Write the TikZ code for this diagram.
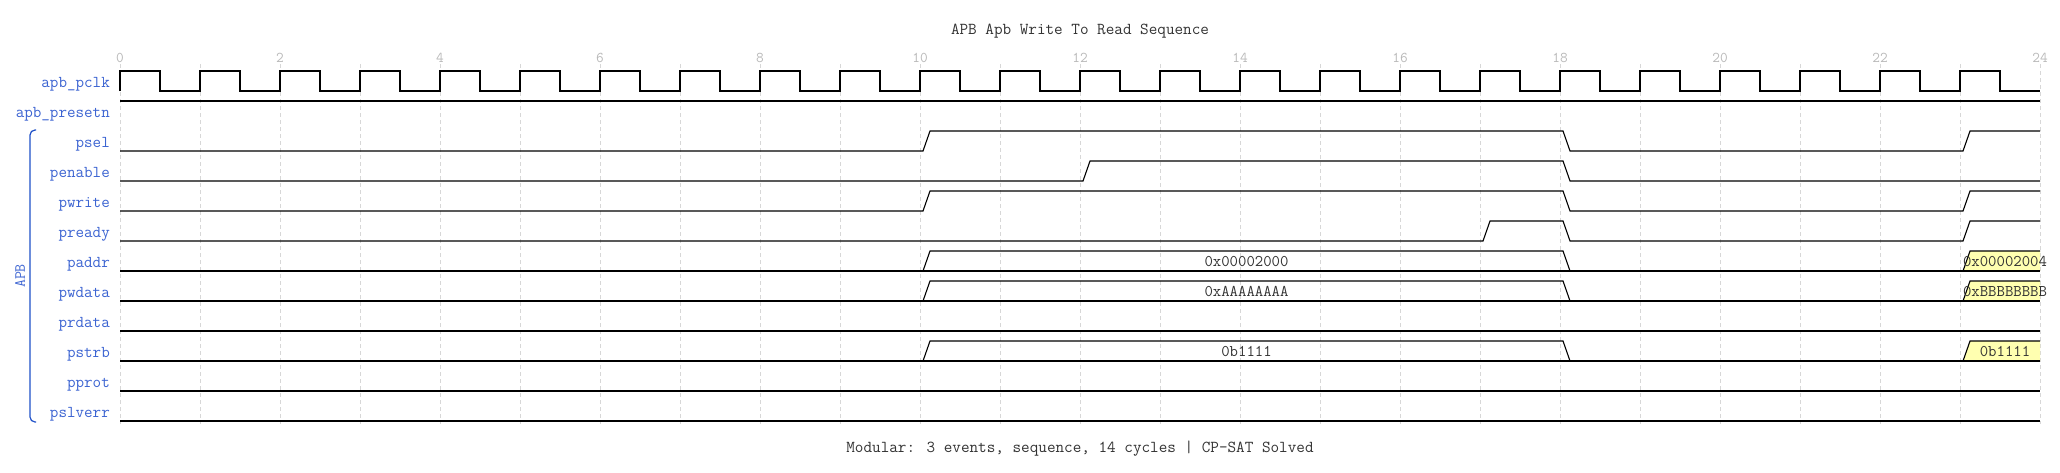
\documentclass[tikz,border=0pt]{standalone}
\usepackage{fontspec}
\definecolor{lblue}{RGB}{60,100,210}
\definecolor{bblue}{RGB}{30,80,200}
\definecolor{txtgray}{RGB}{51,51,51}
\definecolor{tickgray}{RGB}{185,185,185}
\definecolor{gridgray}{RGB}{215,215,215}
\definecolor{busyellow}{RGB}{255,255,176}
\tikzset{
  sig/.style={draw=black, line width=1.1pt, line join=miter},
  gridline/.style={draw=gridgray, line width=0.8pt, dash pattern=on 4pt off 3pt},
  siglabel/.style={anchor=base east, text=lblue, inner sep=0pt, font=\ttfamily\fontsize{16.6}{18}\selectfont},
  ticklabel/.style={anchor=base, text=tickgray, inner sep=0pt, font=\ttfamily\fontsize{14.9}{16}\selectfont},
  bustext/.style={anchor=base, text=txtgray, inner sep=0pt, font=\ttfamily\fontsize{16.3}{18}\selectfont},
  titletext/.style={anchor=base, text=txtgray, inner sep=0pt, font=\ttfamily\fontsize{16.7}{18}\selectfont},
  busfill/.style={fill=busyellow, draw=none},
}
\begin{document}
\begin{tikzpicture}[x=1pt, y=-1pt]
\useasboundingbox[fill=white] (0,0) rectangle (2060,472);

% title and footer
\node[titletext] (title) at (1080,34) {APB Apb Write To Read Sequence};
\node[titletext] (footer) at (1080,452) {Modular: 3 events, sequence, 14 cycles | CP-SAT Solved};

% grid and ticks
\foreach \i in {0,...,24} {
  \draw[gridline] (120+80*\i,64) -- (120+80*\i,424);
}
\foreach \i in {0,2,...,24} {
  \node[ticklabel] (tick\i) at (120+80*\i,62) {\i};
}

% signal labels
\node[siglabel] (lpclk)    at (110,87)  {apb\_pclk};
\node[siglabel] (lpresetn) at (110,117.5) {apb\_presetn};
\node[siglabel] (lpsel)    at (110,147.5) {psel};
\node[siglabel] (lpenable) at (110,177.5) {penable};
\node[siglabel] (lpwrite)  at (110,207.5) {pwrite};
\node[siglabel] (lpready)  at (110,237.5) {pready};
\node[siglabel] (lpaddr)   at (110,267.5) {paddr};
\node[siglabel] (lpwdata)  at (110,297.5) {pwdata};
\node[siglabel] (lprdata)  at (110,327.5) {prdata};
\node[siglabel] (lpstrb)   at (110,357.5) {pstrb};
\node[siglabel] (lpprot)   at (110,387.5) {pprot};
\node[siglabel] (lpslverr) at (110,417.5) {pslverr};

% group bracket
\draw[bblue, line width=1.2pt, rounded corners=5pt] (36,130) -- (30,130) -- (30,422) -- (36,422);
\node[rotate=90, text=lblue, inner sep=0pt, font=\ttfamily\fontsize{15.5}{17}\selectfont] (grp) at (20,276) {APB};

% clock
\draw[sig] (120,91) foreach \i in {0,...,23} { -- (120+80*\i,71) -- (160+80*\i,71) -- (160+80*\i,91) -- (200+80*\i,91) };

% presetn (high)
\draw[sig] (120,101) -- (2040,101);

% psel
\draw[sig] (120,151) -- (923,151) -- (930,131) -- (1563,131) -- (1570,151) -- (1963,151) -- (1970,131) -- (2040,131);
% penable
\draw[sig] (120,181) -- (1083,181) -- (1090,161) -- (1563,161) -- (1570,181) -- (2040,181);
% pwrite
\draw[sig] (120,211) -- (923,211) -- (930,191) -- (1563,191) -- (1570,211) -- (1963,211) -- (1970,191) -- (2040,191);
% pready
\draw[sig] (120,241) -- (1483,241) -- (1490,221) -- (1563,221) -- (1570,241) -- (1963,241) -- (1970,221) -- (2040,221);

% paddr
\fill[busfill] (1963,271) -- (1970,251) -- (2040,251) -- (2040,271) -- cycle;
\draw[sig] (120,271) -- (2040,271);
\draw[sig] (923,271) -- (930,251) -- (1563,251) -- (1570,271);
\draw[sig] (1963,271) -- (1970,251) -- (2040,251);
\node[bustext] (vaddr1) at (1246.5,266.7) {0x00002000};
\node[bustext] (vaddr2) at (2005,266.7) {0x00002004};

% pwdata
\fill[busfill] (1963,301) -- (1970,281) -- (2040,281) -- (2040,301) -- cycle;
\draw[sig] (120,301) -- (2040,301);
\draw[sig] (923,301) -- (930,281) -- (1563,281) -- (1570,301);
\draw[sig] (1963,301) -- (1970,281) -- (2040,281);
\node[bustext] (vwdata1) at (1246.5,296.7) {0xAAAAAAAA};
\node[bustext] (vwdata2) at (2005,296.7) {0xBBBBBBBB};

% prdata
\draw[sig] (120,331) -- (2040,331);

% pstrb
\fill[busfill] (1963,361) -- (1970,341) -- (2040,341) -- (2040,361) -- cycle;
\draw[sig] (120,361) -- (2040,361);
\draw[sig] (923,361) -- (930,341) -- (1563,341) -- (1570,361);
\draw[sig] (1963,361) -- (1970,341) -- (2040,341);
\node[bustext] (vstrb1) at (1246.5,356.7) {0b1111};
\node[bustext] (vstrb2) at (2005,356.7) {0b1111};

% pprot, pslverr
\draw[sig] (120,391) -- (2040,391);
\draw[sig] (120,421) -- (2040,421);
\end{tikzpicture}
\end{document}
